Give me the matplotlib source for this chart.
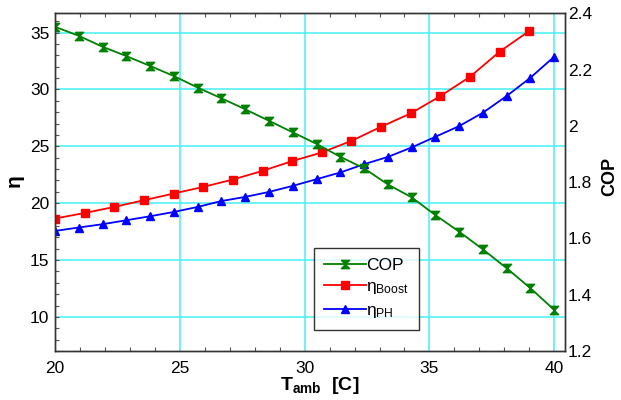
import matplotlib
matplotlib.use('Agg')
import matplotlib.pyplot as plt
import numpy as np
from matplotlib.ticker import MultipleLocator, FormatStrFormatter

plt.rcParams['font.family'] = ['Liberation Sans', 'DejaVu Sans']
plt.rcParams['mathtext.fontset'] = 'custom'
plt.rcParams['mathtext.rm'] = 'Liberation Sans'
plt.rcParams['mathtext.it'] = 'Liberation Sans'
plt.rcParams['mathtext.bf'] = 'Liberation Sans:bold'

# data
t_cop = np.linspace(20, 40, 22)
cop = [2.352, 2.320, 2.281, 2.248, 2.213, 2.177, 2.136, 2.098, 2.059, 2.018, 1.977,
       1.936, 1.890, 1.849, 1.792, 1.746, 1.683, 1.624, 1.561, 1.494, 1.423, 1.346]

t_boost = np.linspace(20, 39, 17)
eta_boost = [18.65, 19.14, 19.67, 20.26, 20.85, 21.43, 22.08, 22.84, 23.70,
             24.46, 25.48, 26.72, 27.90, 29.42, 31.12, 33.33, 35.15]

t_ph = np.linspace(20, 40, 22)
eta_ph = [17.56, 17.86, 18.15, 18.50, 18.85, 19.23, 19.67, 20.19, 20.55, 20.99, 21.52,
          22.11, 22.70, 23.43, 24.07, 24.90, 25.84, 26.78, 27.96, 29.43, 31.04, 32.89]

hourglass = [(-1, 1), (1, 1), (-1, -1), (1, -1), (-1, 1)]

W, H = 621, 400
fig = plt.figure(figsize=(W / 100, H / 100), dpi=100)
ax = fig.add_axes([55 / W, 49 / H, 510 / W, 337.7 / H])
ax2 = ax.twinx()

grid_c = '#45f0f6'
ax.set_xlim(20, 40.43)
ax.set_ylim(7, 36.7)
ax2.set_ylim(1.2, 2.4)

ax.xaxis.set_major_locator(MultipleLocator(5))
ax.xaxis.set_minor_locator(MultipleLocator(1))
ax.yaxis.set_major_locator(MultipleLocator(5))
ax.yaxis.set_minor_locator(MultipleLocator(1))
ax2.yaxis.set_major_locator(MultipleLocator(0.2))
ax2.yaxis.set_major_formatter(FormatStrFormatter('%g'))

ax.grid(True, which='major', color=grid_c, linewidth=1.1)
ax.set_axisbelow(True)

ax.tick_params(which='both', direction='in', top=True, length=3, width=0.8,
               color='#555555', labelsize=12.5, pad=4)
ax2.tick_params(axis='y', length=0, labelsize=12.5, pad=2)
ax.tick_params(axis='x', which='major', length=0, pad=7)

for a in (ax, ax2):
    for s in a.spines.values():
        s.set_color('#333333')
        s.set_linewidth(1)

l2, = ax.plot(t_boost, eta_boost, color='#ff0000', lw=1.3, marker='s', ms=5.3,
              label=r'$\mathregular{\eta_{Boost}}$')
l3, = ax.plot(t_ph, eta_ph, color='#0000ff', lw=1.3, marker='^', ms=6,
              label=r'$\mathregular{\eta_{PH}}$')
l1, = ax2.plot(t_cop, cop, color='#008000', lw=1.3, marker=hourglass, ms=6,
               label='COP')

# axis titles
fig.text(14 / W, 1 - 181 / H, 'η', fontsize=15, fontweight='bold',
         rotation=90, ha='center', va='center')
fig.text(610 / W, 1 - 176 / H, 'COP', fontsize=13, fontweight='bold',
         rotation=90, ha='center', va='center')
fig.text(320 / W, 1 - 386 / H, r'$\mathbf{T_{amb}}$  [C]', fontsize=14,
         fontweight='bold', ha='center', va='center')

leg = ax2.legend(handles=[l1, l2, l3], loc='lower left',
                 bbox_to_anchor=(0.508, 0.062), borderaxespad=0, fontsize=12.5,
                 frameon=True, fancybox=False, edgecolor='black',
                 handlelength=2.4, handletextpad=0.0, borderpad=0.6,
                 labelspacing=0.35)
leg.get_frame().set_linewidth(1)

fig.savefig('out.png', dpi=100)
